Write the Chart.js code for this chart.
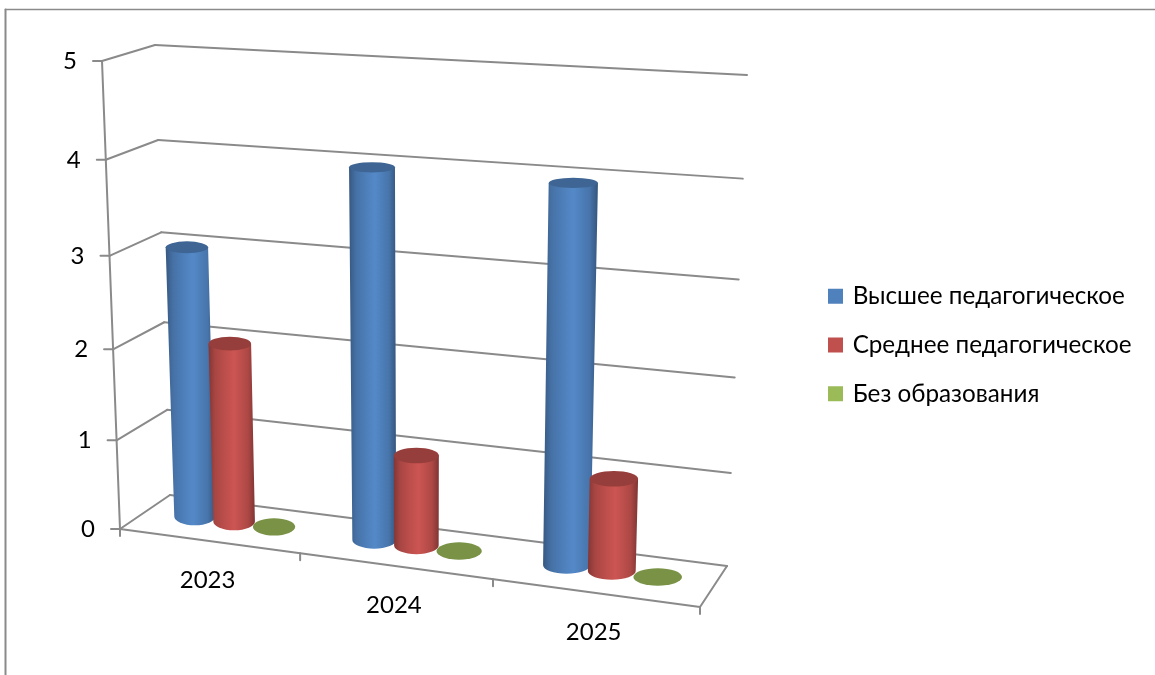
<!DOCTYPE html>
<html><head><meta charset="utf-8">
<style>html,body{margin:0;padding:0;background:#fff}canvas{display:block}</style>
<script src="https://cdn.jsdelivr.net/npm/chart.js@4"></script>
</head><body><canvas id="c" width="1155" height="675"></canvas>
<script>
const categories = ['2023', '2024', '2025'];
const higher = [3, 4, 4];
const secondary = [2, 1, 1];
const none = [0, 0, 0];
const seriesNames = ['Высшее педагогическое', 'Среднее педагогическое', 'Без образования'];
const seriesColors = ['#4F81BD', '#C0504D', '#9BBB59'];
const yMax = 5;
const FONT = 'Lato';
const GREY = '#8a8a8a';

// Perspective box of the 3D plot: [x, y] of the eight corners
const box = {
  flb: [120, 529], frb: [700, 607], blb: [170, 495], brb: [727, 566],
  flt: [102, 61], frt: [714, 110], blt: [155, 45], brt: [747, 75]
};
const barDepth = 0.55, perspV = 0.07, perspU = 0.11;

function warp(t, k) { return t / (1 + k * (1 - t)); }
function P(u0, v, d) {
  const w = warp(v, perspV), u = warp(u0, perspU), out = [0, 0];
  for (let i = 0; i < 2; i++) {
    const f = (1 - u) * ((1 - w) * box.flb[i] + w * box.flt[i]) + u * ((1 - w) * box.frb[i] + w * box.frt[i]);
    const b = (1 - u) * ((1 - w) * box.blb[i] + w * box.blt[i]) + u * ((1 - w) * box.brb[i] + w * box.brt[i]);
    out[i] = (1 - d) * f + d * b;
  }
  return out;
}
function shade(hex, k) {
  const n = parseInt(hex.slice(1), 16);
  const c = s => Math.min(255, Math.round(((n >> s) & 255) * k));
  return `rgb(${c(16)},${c(8)},${c(0)})`;
}
function line(ctx, a, b) { ctx.beginPath(); ctx.moveTo(a[0], a[1]); ctx.lineTo(b[0], b[1]); ctx.stroke(); }

const plot3d = {
  id: 'plot3d',
  afterLayout(chart) {
    const lg = chart.legend;
    const dx = 806 - lg.left, dy = 50;
    lg.left += dx; lg.right += dx; lg.top += dy; lg.bottom += dy;
  },
  beforeDatasetsDraw(chart) {
    const ctx = chart.ctx, ys = chart.scales.y, xs = chart.scales.x;
    ctx.save();
    ctx.strokeStyle = GREY; ctx.lineCap = 'round';
    // page frame
    ctx.lineWidth = 2; line(ctx, [5.5, 675], [5.5, 9.5]);
    ctx.lineWidth = 1.5; line(ctx, [5.5, 9.5], [1155, 9.5]);
    ctx.lineWidth = 2;
    // walls and y axis
    ys.ticks.forEach(t => {
      const v = t.value / yMax;
      const f = P(0, v, 0), b = P(0, v, 1), r = P(1, v, 1);
      line(ctx, f, b); line(ctx, b, r);
      line(ctx, [f[0] - 9, f[1]], f);
      ctx.fillStyle = '#000';
      ctx.font = `24px ${FONT}`;
      ctx.textAlign = 'center'; ctx.textBaseline = 'middle';
      ctx.fillText(String(t.value), f[0] - 32, f[1]);
    });
    line(ctx, P(0, 0, 0), P(0, 1, 0));
    // floor
    line(ctx, P(0, 0, 0), P(1, 0, 0));
    line(ctx, P(1, 0, 0), P(1, 0, 1));
    // x axis ticks and labels
    for (let i = 0; i <= categories.length; i++) {
      const p = P(i / categories.length, 0, 0);
      line(ctx, p, [p[0], p[1] + 7]);
    }
    categories.forEach((c, i) => {
      const u = (xs.getPixelForValue(i) - chart.chartArea.left) / chart.chartArea.width;
      const p = P(u, 0, 0);
      ctx.fillStyle = '#000';
      ctx.font = `24px ${FONT}`;
      ctx.textAlign = 'center'; ctx.textBaseline = 'middle';
      ctx.fillText(c, p[0] - 1, p[1] + 39);
    });
    ctx.restore();
  },
  beforeDatasetDraw() { return false; },
  afterDatasetsDraw(chart) {
    const ctx = chart.ctx, a = chart.chartArea;
    for (let col = 0; col < categories.length; col++) {
      chart.data.datasets.forEach((ds, di) => {
        const el = chart.getDatasetMeta(di).data[col];
        const col0 = ds.backgroundColor;
        const u = (el.x - a.left) / a.width, uw = el.width / a.width;
        const v = (a.bottom - el.y) / a.height;
        const bot = P(u, 0, barDepth), top = P(u, v, barDepth);
        const rb = (P(u + uw / 2, 0, barDepth)[0] - P(u - uw / 2, 0, barDepth)[0]) / 2;
        const rt = (P(u + uw / 2, v, barDepth)[0] - P(u - uw / 2, v, barDepth)[0]) / 2;
        const ryb = 8.7, ryt = 8.7 - 4.5 * v;
        ctx.save();
        if (v > 0) {
          const g = ctx.createLinearGradient(Math.min(bot[0] - rb, top[0] - rt), 0, Math.max(bot[0] + rb, top[0] + rt), 0);
          g.addColorStop(0, shade(col0, 0.68));
          g.addColorStop(0.14, shade(col0, 0.87));
          g.addColorStop(0.35, shade(col0, 0.98));
          g.addColorStop(0.55, shade(col0, 1.06));
          g.addColorStop(0.85, shade(col0, 0.9));
          g.addColorStop(1, shade(col0, 0.66));
          ctx.fillStyle = g;
          ctx.beginPath();
          ctx.ellipse(bot[0], bot[1], rb, ryb, 0, Math.PI, 0, true);
          ctx.lineTo(top[0] + rt, top[1]);
          ctx.lineTo(top[0] - rt, top[1]);
          ctx.closePath();
          ctx.fill();
        }
        ctx.fillStyle = shade(col0, 0.78);
        ctx.beginPath();
        ctx.ellipse(top[0], top[1], rt, ryt, 0, 0, Math.PI * 2);
        ctx.fill();
        ctx.restore();
      });
    }
  }
};

new Chart(document.getElementById('c'), {
  type: 'bar',
  data: {
    labels: categories,
    datasets: [
      { label: seriesNames[0], data: higher, backgroundColor: seriesColors[0], borderColor: seriesColors[0], borderWidth: 5 },
      { label: seriesNames[1], data: secondary, backgroundColor: seriesColors[1], borderColor: seriesColors[1], borderWidth: 5 },
      { label: seriesNames[2], data: none, backgroundColor: seriesColors[2], borderColor: seriesColors[2], borderWidth: 5 }
    ]
  },
  plugins: [plot3d],
  options: {
    responsive: false, animation: false, devicePixelRatio: 1,
    layout: { padding: { left: 120, top: 61, bottom: 146, right: 40 } },
    datasets: { bar: { categoryPercentage: 0.675, barPercentage: 1.05 } },
    scales: {
      x: { display: false },
      y: { display: false, min: 0, max: yMax, ticks: { stepSize: 1 } }
    },
    plugins: {
      tooltip: { enabled: false },
      legend: {
        position: 'right', align: 'center',
        labels: { boxWidth: 10, boxHeight: 10, padding: 24.5, color: '#000', font: { family: FONT, size: 24.25 } }
      }
    }
  }
});
</script></body></html>
